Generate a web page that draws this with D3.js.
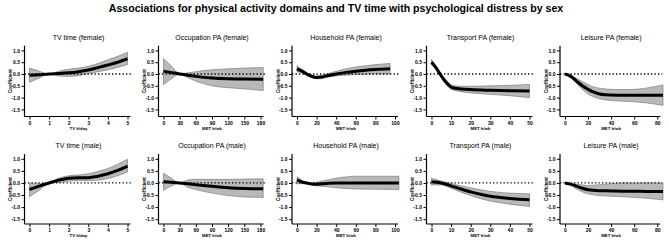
<!DOCTYPE html>
<html>
<head>
<meta charset="utf-8">
<script src="https://cdn.jsdelivr.net/npm/d3@7"></script>
<style>
  body { margin: 0; background: #fff; }
  svg { display: block; }
  text { font-family: "Liberation Sans", Arial, sans-serif; }
</style>
</head>
<body>
<div id="chart"></div>
<script>
// ---- data ----
var sexes = ['female', 'male'];
var domains = ['TV time', 'Occupation PA', 'Household PA', 'Transport PA', 'Leisure PA'];
var xLabels = ['TV h/day', 'MET h/wk', 'MET h/wk', 'MET h/wk', 'MET h/wk'];
var xTicks = [[0, 1, 2, 3, 4, 5], [0, 30, 60, 90, 120, 150, 180], [0, 20, 40, 60, 80, 100], [0, 10, 20, 30, 40, 50], [0, 20, 40, 60, 80]];
var xMax = [5, 180, 100, 50, 85];
var yTicks = [1.0, 0.5, 0.0, -0.5, -1.0, -1.5];

// female
var tvFemaleX = [0, 0.5, 1, 1.5, 2, 2.5, 3, 3.5, 4, 4.5, 5];
var tvFemaleMean = [-0.05, -0.03, 0, 0.02, 0.05, 0.1, 0.17, 0.27, 0.38, 0.5, 0.65];
var tvFemaleLo = [-0.35, -0.17, 0, -0.08, -0.1, -0.07, 0.02, 0.1, 0.18, 0.28, 0.4];
var tvFemaleHi = [0.25, 0.12, 0, 0.12, 0.2, 0.25, 0.33, 0.45, 0.6, 0.75, 0.92];

var occFemaleX = [0, 15, 30, 45, 60, 90, 120, 150, 185];
var occFemaleMean = [0.12, 0.06, 0, -0.05, -0.1, -0.17, -0.2, -0.21, -0.22];
var occFemaleLo = [-0.45, -0.2, 0, -0.15, -0.3, -0.5, -0.58, -0.63, -0.7];
var occFemaleHi = [0.65, 0.33, 0, 0.05, 0.1, 0.18, 0.22, 0.25, 0.28];

var houseFemaleX = [0, 5, 10, 15, 20, 25, 30, 40, 50, 60, 70, 80, 95];
var houseFemaleMean = [0.22, 0.12, 0, -0.1, -0.15, -0.13, -0.08, 0, 0.07, 0.12, 0.16, 0.19, 0.22];
var houseFemaleLo = [0.1, 0.05, -0.05, -0.16, -0.2, -0.2, -0.15, -0.08, -0.05, -0.02, -0.01, 0, 0];
var houseFemaleHi = [0.35, 0.2, 0.05, -0.04, -0.08, -0.06, 0, 0.12, 0.22, 0.3, 0.35, 0.4, 0.45];

var transFemaleX = [0, 2, 4, 6, 8, 10, 12, 15, 20, 30, 40, 50];
var transFemaleMean = [0.5, 0.3, 0.05, -0.2, -0.4, -0.55, -0.6, -0.63, -0.66, -0.69, -0.71, -0.72];
var transFemaleLo = [0.4, 0.22, -0.02, -0.28, -0.5, -0.65, -0.7, -0.75, -0.8, -0.86, -0.92, -1.0];
var transFemaleHi = [0.62, 0.38, 0.12, -0.12, -0.3, -0.45, -0.5, -0.52, -0.52, -0.5, -0.48, -0.44];

var leisFemaleX = [0, 5, 10, 15, 20, 25, 30, 35, 40, 50, 60, 70, 85];
var leisFemaleMean = [0, -0.1, -0.3, -0.5, -0.65, -0.77, -0.85, -0.88, -0.89, -0.9, -0.9, -0.9, -0.9];
var leisFemaleLo = [0, -0.15, -0.4, -0.65, -0.85, -0.97, -1.05, -1.1, -1.12, -1.15, -1.18, -1.22, -1.33];
var leisFemaleHi = [0, -0.05, -0.18, -0.32, -0.45, -0.55, -0.6, -0.63, -0.65, -0.66, -0.65, -0.6, -0.46];

// male
var tvMaleX = [0, 0.5, 1, 1.5, 2, 2.5, 3, 3.5, 4, 4.5, 5];
var tvMaleMean = [-0.27, -0.13, 0, 0.12, 0.2, 0.22, 0.22, 0.28, 0.38, 0.52, 0.7];
var tvMaleLo = [-0.57, -0.3, 0, 0.02, 0.08, 0.1, 0.1, 0.12, 0.18, 0.3, 0.45];
var tvMaleHi = [-0.02, -0.03, 0, 0.2, 0.3, 0.33, 0.38, 0.48, 0.6, 0.78, 0.98];

var occMaleX = [0, 15, 30, 45, 60, 90, 120, 150, 185];
var occMaleMean = [0.05, 0.03, 0, -0.03, -0.07, -0.14, -0.2, -0.23, -0.24];
var occMaleLo = [-0.3, -0.12, 0, -0.18, -0.27, -0.42, -0.52, -0.58, -0.6];
var occMaleHi = [0.4, 0.2, 0, 0.12, 0.15, 0.15, 0.15, 0.16, 0.17];

var houseMaleX = [0, 3, 6, 10, 15, 20, 30, 40, 50, 60, 80, 104];
var houseMaleMean = [0.12, 0.08, 0.03, 0, -0.04, -0.05, -0.02, 0, 0, 0, 0, 0];
var houseMaleLo = [-0.05, -0.02, -0.03, -0.04, -0.08, -0.12, -0.15, -0.2, -0.23, -0.25, -0.26, -0.27];
var houseMaleHi = [0.25, 0.17, 0.08, 0.02, 0, 0.03, 0.12, 0.2, 0.25, 0.28, 0.28, 0.28];

var transMaleX = [0, 5, 10, 15, 20, 25, 30, 35, 40, 45, 50];
var transMaleMean = [0.05, 0, -0.12, -0.25, -0.37, -0.47, -0.55, -0.6, -0.64, -0.67, -0.7];
var transMaleLo = [-0.08, -0.08, -0.22, -0.38, -0.52, -0.65, -0.75, -0.82, -0.88, -0.93, -0.97];
var transMaleHi = [0.2, 0.08, -0.02, -0.12, -0.2, -0.28, -0.35, -0.39, -0.42, -0.44, -0.45];

var leisMaleX = [0, 5, 10, 15, 20, 30, 40, 50, 60, 70, 85];
var leisMaleMean = [0, -0.05, -0.13, -0.22, -0.28, -0.32, -0.33, -0.34, -0.34, -0.35, -0.35];
var leisMaleLo = [0, -0.1, -0.25, -0.37, -0.45, -0.52, -0.55, -0.57, -0.6, -0.63, -0.7];
var leisMaleHi = [0, -0.02, -0.05, -0.08, -0.1, -0.07, -0.03, 0, 0, 0, 0];

var series = [
    [[tvFemaleX, tvFemaleMean, tvFemaleLo, tvFemaleHi],
     [occFemaleX, occFemaleMean, occFemaleLo, occFemaleHi],
     [houseFemaleX, houseFemaleMean, houseFemaleLo, houseFemaleHi],
     [transFemaleX, transFemaleMean, transFemaleLo, transFemaleHi],
     [leisFemaleX, leisFemaleMean, leisFemaleLo, leisFemaleHi]],
    [[tvMaleX, tvMaleMean, tvMaleLo, tvMaleHi],
     [occMaleX, occMaleMean, occMaleLo, occMaleHi],
     [houseMaleX, houseMaleMean, houseMaleLo, houseMaleHi],
     [transMaleX, transMaleMean, transMaleLo, transMaleHi],
     [leisMaleX, leisMaleMean, leisMaleLo, leisMaleHi]]
];

// ---- layout ----
var width = 669, height = 242;
var colAxisX = [24.5, 158.5, 292, 426.5, 560];
var colPlotW = [98, 97, 98, 98, 98];   // pixels spanned by the x domain
var rows = [
    {top: 45.7, bottom: 116.5, yDomain: [-1.8, 1.2]},
    {top: 154, bottom: 224, yDomain: [-1.7, 1.2]}
];

var svg = d3.select('#chart')
    .append('svg')
    .attr('width', width)
    .attr('height', height);

svg.append('text')
    .attr('x', 336)
    .attr('y', 12)
    .attr('text-anchor', 'middle')
    .style('font-weight', 'bold')
    .style('font-size', '10.6px')
    .text('Associations for physical activity domains and TV time with psychological distress by sex');

function fmt(v) {
    return v.toFixed(1);
}

rows.forEach(function(row, r) {
    domains.forEach(function(dom, c) {
        var s = series[r][c];
        var axisX = colAxisX[c];
        var x0 = axisX + 5;
        var tickMax = xTicks[c][xTicks[c].length - 1];
        var domMax = Math.min(xMax[c], tickMax) == tickMax && c != 4 ? tickMax : xMax[c];

        var x = d3.scaleLinear()
            .domain([0, domMax])
            .range([x0, x0 + colPlotW[c]]);

        var y = d3.scaleLinear()
            .domain(row.yDomain)
            .range([row.bottom, row.top]);

        var g = svg.append('g');
        var right = x(tickMax) + 3;

        var pts = s[0].map(function(v, i) { return {x: v, m: s[1][i], lo: s[2][i], hi: s[3][i]}; });

        // confidence band
        var area = d3.area()
            .x(function(d) { return x(d.x); })
            .y0(function(d) { return y(d.lo); })
            .y1(function(d) { return y(d.hi); })
            .curve(d3.curveMonotoneX);
        g.append('path')
            .datum(pts)
            .attr('d', area)
            .attr('fill', '#b9b9b9')
            .attr('stroke', '#6e6e6e')
            .attr('stroke-width', 0.6);

        // zero reference line
        g.append('line')
            .attr('x1', axisX)
            .attr('x2', right + 2)
            .attr('y1', y(0))
            .attr('y2', y(0))
            .attr('stroke', '#000')
            .attr('stroke-width', 1.3)
            .attr('stroke-dasharray', '1.3,2.2');

        // mean curve
        var line = d3.line()
            .x(function(d) { return x(d.x); })
            .y(function(d) { return y(d.m); })
            .curve(d3.curveMonotoneX);
        g.append('path')
            .datum(pts)
            .attr('d', line)
            .attr('fill', 'none')
            .attr('stroke', '#000')
            .attr('stroke-width', 3);

        // axes
        var yAxis = g.append('g')
            .attr('transform', 'translate(' + axisX + ',0)')
            .call(d3.axisLeft(y).tickValues(yTicks).tickFormat(fmt).tickSize(3).tickPadding(1.5));
        yAxis.select('.domain').attr('d', 'M0,' + row.top + 'V' + row.bottom);

        var xAxis = g.append('g')
            .attr('transform', 'translate(0,' + row.bottom + ')')
            .call(d3.axisBottom(x).tickValues(xTicks[c]).tickFormat(d3.format('d')).tickSize(3).tickPadding(1.5));
        xAxis.select('.domain').attr('d', 'M' + axisX + ',0H' + right);

        g.selectAll('.domain').attr('stroke-width', 1.2);
        g.selectAll('.tick line').attr('stroke-width', 1);
        g.selectAll('.tick text')
            .style('font-size', '5px')
            .style('font-weight', 'bold')
            .attr('fill', '#000');

        // labels
        var cx = (x0 + x(tickMax)) / 2;
        g.append('text')
            .attr('x', cx)
            .attr('y', row.top - 6)
            .attr('text-anchor', 'middle')
            .style('font-size', '7px')
            .text(dom + ' (' + sexes[r] + ')');

        g.append('text')
            .attr('x', cx)
            .attr('y', row.bottom + 13)
            .attr('text-anchor', 'middle')
            .style('font-size', '4.3px')
            .style('font-weight', 'bold')
            .text(xLabels[c]);

        g.append('text')
            .attr('transform', 'translate(' + (axisX - 12.5) + ',' + ((row.top + row.bottom) / 2) + ')rotate(-90)')
            .attr('text-anchor', 'middle')
            .style('font-size', '4.6px')
            .style('font-weight', 'bold')
            .text('Coefficient');
    });
});
</script>
</body>
</html>
